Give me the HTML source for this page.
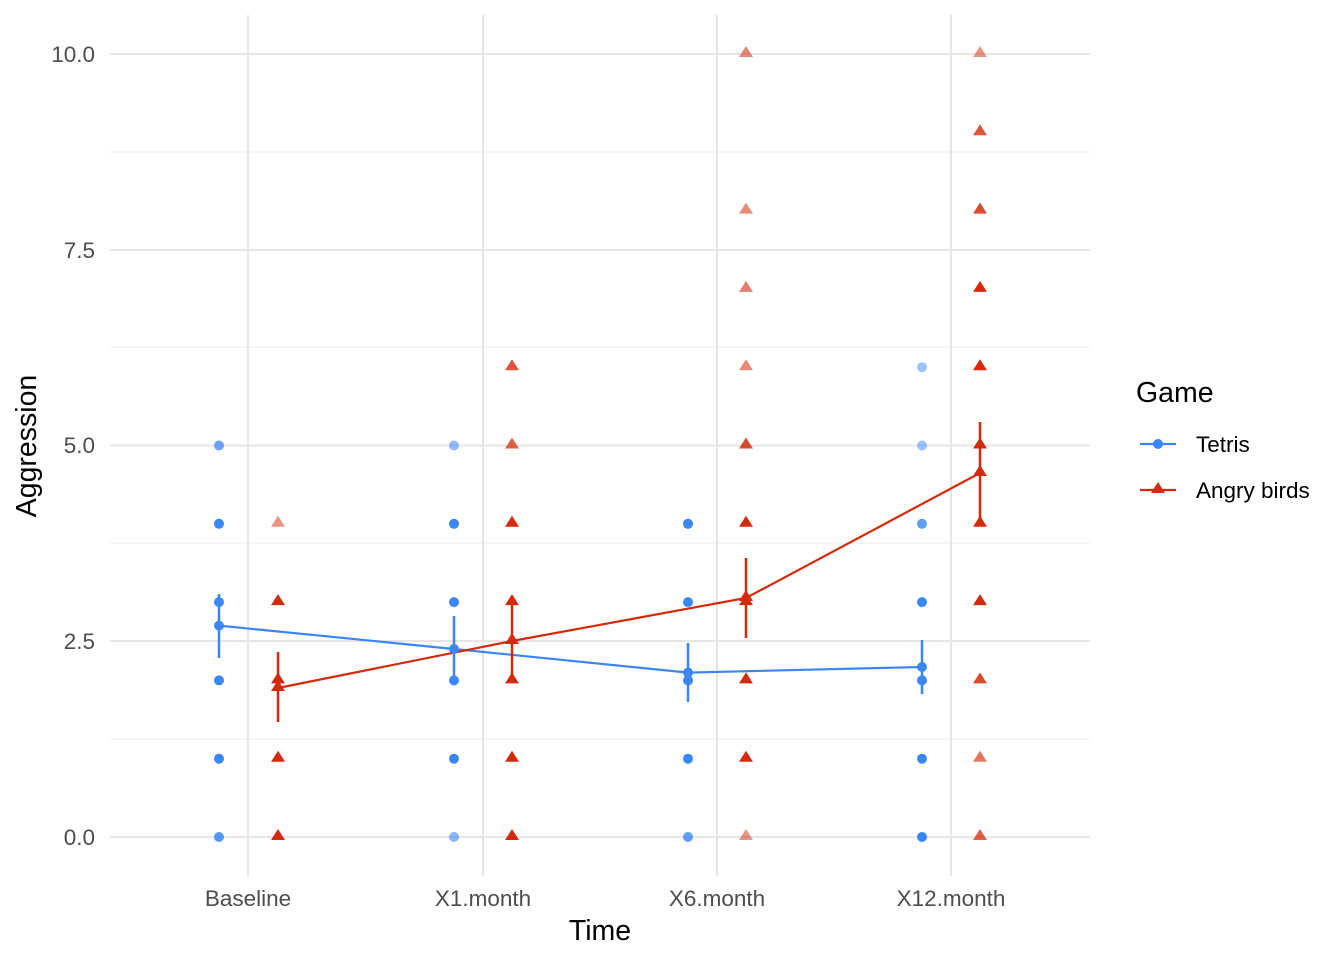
<!DOCTYPE html>
<html><head><meta charset="utf-8"><style>body{margin:0;background:#fff}svg{display:block;font-family:"Liberation Sans",sans-serif}</style></head><body>
<svg width="1344" height="960" viewBox="0 0 1344 960">
<g stroke="#ebebeb" stroke-width="1">
<line x1="110" x2="1090" y1="739" y2="739"/><line x1="110" x2="1090" y1="543" y2="543"/><line x1="110" x2="1090" y1="347" y2="347"/><line x1="110" x2="1090" y1="152" y2="152"/>
</g>
<g stroke="#e6e6e6" stroke-width="2">
<line x1="110" x2="1090" y1="837" y2="837"/><line x1="110" x2="1090" y1="641" y2="641"/><line x1="110" x2="1090" y1="445.5" y2="445.5"/><line x1="110" x2="1090" y1="250" y2="250"/><line x1="110" x2="1090" y1="54" y2="54"/>
<line x1="248" x2="248" y1="15" y2="876"/><line x1="483" x2="483" y1="15" y2="876"/><line x1="717" x2="717" y1="15" y2="876"/><line x1="951" x2="951" y1="15" y2="876"/>
</g>
<g font-size="22.5" fill="#4d4d4d" text-anchor="end">
<text x="95" y="845">0.0</text><text x="95" y="649">2.5</text><text x="95" y="453">5.0</text><text x="95" y="258">7.5</text><text x="95" y="62">10.0</text>
</g>
<g font-size="22.5" fill="#4d4d4d" text-anchor="middle">
<text x="248" y="906">Baseline</text><text x="483" y="906">X1.month</text><text x="717" y="906">X6.month</text><text x="951" y="906">X12.month</text>
</g>
<text x="600" y="940" font-size="28.5" text-anchor="middle">Time</text>
<text transform="translate(36,446) rotate(-90)" font-size="28.5" text-anchor="middle">Aggression</text>
<g id="pts"></g>
<polyline points="219,625.6 454,649 688,672.6 922,667" fill="none" stroke="#3a86f5" stroke-width="2.2"/>
<polyline points="278,688 512,641 746,598 980,473" fill="none" stroke="#d42a0b" stroke-width="2.2"/>
<g stroke="#3a86f5" stroke-width="2.5">
<line x1="219" x2="219" y1="594" y2="658"/><line x1="454" x2="454" y1="616" y2="682"/><line x1="688" x2="688" y1="643" y2="702"/><line x1="922" x2="922" y1="640" y2="694"/>
</g>
<g stroke="#d42a0b" stroke-width="2.5">
<line x1="278" x2="278" y1="652" y2="722"/><line x1="512" x2="512" y1="600" y2="680"/><line x1="746" x2="746" y1="558" y2="638"/><line x1="980" x2="980" y1="422" y2="523"/>
</g>
<g fill="#3a86f5"><circle cx="219" cy="625.6" r="5"/><circle cx="454" cy="649" r="5"/><circle cx="688" cy="672.6" r="5"/><circle cx="922" cy="667" r="5"/></g>
<g fill="#d42a0b">
<path d="M278,680 l7,11 h-14z"/><path d="M512,633 l7,11 h-14z"/><path d="M746,590 l7,11 h-14z"/><path d="M980,465 l7,11 h-14z"/>
</g>
<text x="1136" y="402" font-size="28.5">Game</text>
<line x1="1140" x2="1176" y1="444" y2="444" stroke="#3a86f5" stroke-width="2.2"/><circle cx="1158" cy="444" r="5" fill="#3a86f5"/>
<text x="1196" y="452" font-size="22.5">Tetris</text>
<line x1="1140" x2="1176" y1="490" y2="490" stroke="#d42a0b" stroke-width="2.2"/><path d="M1158,482 l7,11 h-14z" fill="#d42a0b"/>
<text x="1196" y="498" font-size="22.5">Angry birds</text>
<script>
var g=document.getElementById('pts'),ns='http://www.w3.org/2000/svg';
function Y(v){return 837-v*78.3;}
var T=[[219,[[0,.85],[1,1],[2,1],[3,1],[4,1],[5,.75]]],[454,[[0,.6],[1,1],[2,1],[3,1],[4,1],[5,.55]]],[688,[[0,.8],[1,1],[2,1],[3,1],[4,1]]],[922,[[0,1],[1,1],[2,1],[3,1],[4,.8],[5,.5],[6,.5]]]];
var A=[[278,[[0,1],[1,1],[2,1],[3,1],[4,.5]]],[512,[[0,1],[1,1],[2,1],[3,1],[4,1],[5,.75],[6,.8]]],[746,[[0,.5],[1,1],[2,1],[3,1],[4,1],[5,.85],[6,.55],[7,.6],[8,.55],[10,.55]]],[980,[[0,.75],[1,.65],[2,.85],[3,1],[4,1],[5,1],[6,1],[7,1],[8,.85],[9,.8],[10,.5]]]];
T.forEach(function(c){c[1].forEach(function(p){var e=document.createElementNS(ns,'circle');e.setAttribute('cx',c[0]);e.setAttribute('cy',Y(p[0]));e.setAttribute('r',5);e.setAttribute('fill','#3a86f5');e.setAttribute('fill-opacity',p[1]);g.appendChild(e);});});
A.forEach(function(c){c[1].forEach(function(p){var e=document.createElementNS(ns,'path');var y=Y(p[0]);e.setAttribute('d','M'+c[0]+','+(y-8)+' l7,11 h-14z');e.setAttribute('fill','#d42a0b');e.setAttribute('fill-opacity',p[1]);g.appendChild(e);});});
</script>
</svg>
</body></html>
